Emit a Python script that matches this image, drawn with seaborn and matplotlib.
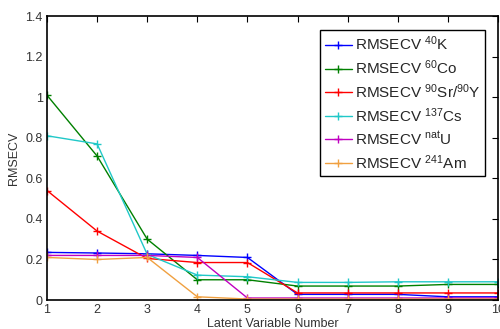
import numpy as np
import pandas as pd
import matplotlib
matplotlib.use("Agg")
import matplotlib.pyplot as plt
import seaborn as sns

x = [1, 2, 3, 4, 5, 6, 7, 8, 9, 10]
k40 = [0.235, 0.232, 0.228, 0.22, 0.21, 0.028, 0.028, 0.028, 0.016, 0.016]
co60 = [1.01, 0.71, 0.30, 0.10, 0.10, 0.069, 0.069, 0.069, 0.077, 0.077]
sr90 = [0.54, 0.34, 0.205, 0.185, 0.185, 0.035, 0.035, 0.035, 0.035, 0.035]
cs137 = [0.81, 0.77, 0.225, 0.123, 0.115, 0.087, 0.087, 0.09, 0.09, 0.09]
unat = [0.22, 0.22, 0.22, 0.21, 0.01, 0.01, 0.01, 0.01, 0.01, 0.01]
am241 = [0.21, 0.20, 0.21, 0.016, 0.005, 0.005, 0.005, 0.005, 0.005, 0.005]

labels = [r'RMSECV $^{40}$K', r'RMSECV $^{60}$Co', r'RMSECV $^{90}$Sr/$^{90}$Y',
          r'RMSECV $^{137}$Cs', r'RMSECV $^{nat}$U', r'RMSECV $^{241}$Am']
colors = ['#0000ff', '#008000', '#ff0000', '#20c8c8', '#c000c0', '#f0a040']
series = [k40, co60, sr90, cs137, unat, am241]

df = pd.concat([pd.DataFrame({'x': x, 'y': s, 'series': l}) for s, l in zip(series, labels)])

sns.set_style('white')
plt.rcParams['font.family'] = ['Liberation Sans', 'DejaVu Sans']
plt.rcParams['mathtext.default'] = 'regular'

fig = plt.figure(figsize=(5, 3.29), dpi=100)
ax = fig.add_axes([0.094, 0.088, 0.902, 0.863])
sns.lineplot(data=df, x='x', y='y', hue='series', palette=dict(zip(labels, colors)),
             marker='+', markersize=6, markeredgewidth=1.0, linewidth=1.0, ax=ax,
             legend=False)
for line in ax.lines:
    line.set_markeredgecolor(line.get_color())
    line.set_markerfacecolor(line.get_color())

ax.set_xlim(1, 10)
ax.set_ylim(0, 1.4)
ax.set_xticks(range(1, 11))
ax.set_yticks([0, 0.2, 0.4, 0.6, 0.8, 1.0, 1.2, 1.4])
ax.set_yticklabels(['0', '0.2', '0.4', '0.6', '0.8', '1', '1.2', '1.4'])
ax.tick_params(direction='in', top=True, right=True, length=4, labelsize=9,
               colors='black', labelcolor='#333333', pad=3)
for sp in ax.spines.values():
    sp.set_visible(True)
    sp.set_color('black')
    sp.set_linewidth(1.2)
ax.set_xlabel('Latent Variable Number', fontsize=9, color='#333333', labelpad=1)
ax.set_ylabel('RMSECV', fontsize=9, color='#333333', labelpad=4)

handles = [plt.Line2D([], [], color=c, marker='+', markersize=6, markeredgewidth=1.0,
                      linewidth=1.0) for c in colors]
leg = ax.legend(handles, labels, loc='upper right', bbox_to_anchor=(0.972, 0.952), fontsize=11,
                frameon=True, fancybox=False, edgecolor='black', framealpha=1,
                handlelength=1.8, handletextpad=0.2, labelspacing=0.35, borderpad=0.3,
                borderaxespad=0.0)
leg.get_frame().set_linewidth(1.0)

fig.savefig('out.png', dpi=100)
